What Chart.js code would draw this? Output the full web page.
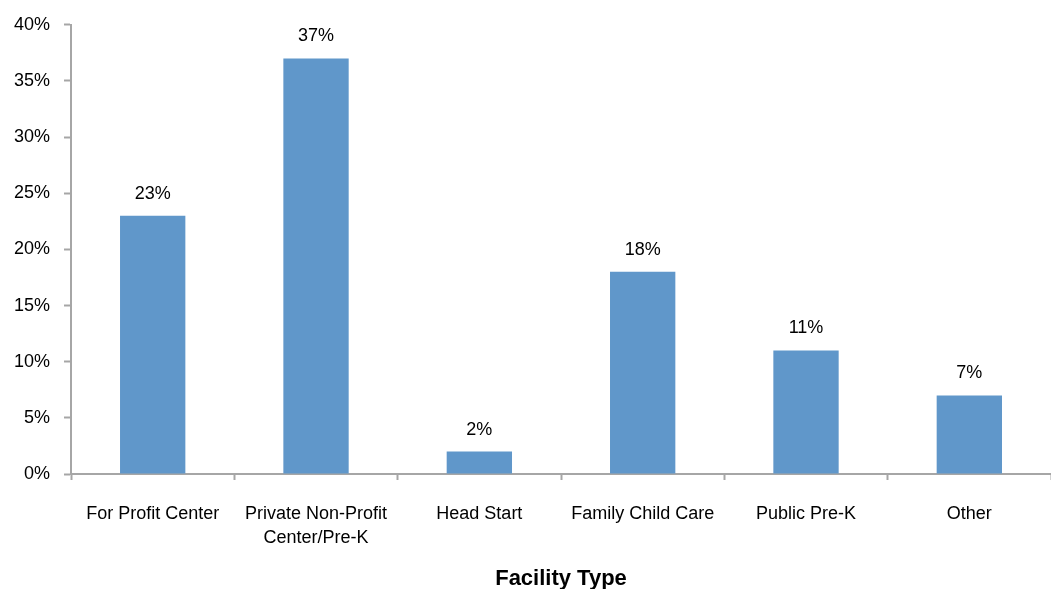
<!DOCTYPE html>
<html>
<head>
<meta charset="utf-8">
<script src="https://cdn.jsdelivr.net/npm/chart.js"></script>
<style>
  html, body { margin: 0; padding: 0; background: #fff; overflow: hidden; }
  #wrap { width: 1051px; height: 589px; position: relative; }
</style>
</head>
<body>
<div id="wrap"><canvas id="myChart"></canvas></div>
<script>
var categories = ["For Profit Center", ["Private Non-Profit", "Center/Pre-K"], "Head Start", "Family Child Care", "Public Pre-K", "Other"];
var shares = [23, 37, 2, 18, 11, 7];
var yTicks = [0, 5, 10, 15, 20, 25, 30, 35, 40];

var axisGray = "#a6a6a6";
var font = "'Liberation Sans', Arial, sans-serif";

// writes the value above each bar
var barLabels = {
  id: "barLabels",
  afterDatasetsDraw: function (chart) {
    var ctx = chart.ctx;
    var meta = chart.getDatasetMeta(0);
    ctx.save();
    ctx.fillStyle = "#000";
    ctx.font = "18px " + font;
    ctx.textAlign = "center";
    ctx.textBaseline = "bottom";
    meta.data.forEach(function (bar, i) {
      ctx.fillText(shares[i] + "%", bar.x, bar.y - 13);
    });
    ctx.restore();
  }
};

new Chart(document.getElementById("myChart"), {
  type: "bar",
  data: {
    labels: categories,
    datasets: [{
      data: shares,
      backgroundColor: "#6097ca",
      barPercentage: 0.4,
      categoryPercentage: 1.0
    }]
  },
  options: {
    responsive: true,
    maintainAspectRatio: false,
    animation: false,
    layout: { padding: { top: 1, right: 0, left: 0, bottom: 0 } },
    plugins: {
      legend: { display: false },
      tooltip: { enabled: false }
    },
    scales: {
      x: {
        grid: {
          offset: true,
          drawOnChartArea: false,
          drawTicks: true,
          tickLength: 6,
          tickColor: axisGray,
          tickWidth: 2
        },
        border: { color: axisGray, width: 2 },
        ticks: {
          color: "#000",
          font: { family: font, size: 18, lineHeight: 1.35 },
          padding: 22,
          maxRotation: 0,
          autoSkip: false
        },
        title: {
          display: true,
          text: "Facility Type",
          color: "#000",
          font: { family: "'Liberation Sans Narrow', 'Liberation Sans', Arial, sans-serif", size: 22, weight: "bold" },
          padding: { top: -7, bottom: -3 }
        }
      },
      y: {
        min: 0,
        max: 40,
        afterBuildTicks: function (axis) {
          axis.ticks = yTicks.map(function (v) { return { value: v }; });
        },
        grid: {
          drawOnChartArea: false,
          drawTicks: true,
          tickLength: 7,
          tickColor: axisGray,
          tickWidth: 2
        },
        border: { color: axisGray, width: 2 },
        ticks: {
          color: "#000",
          font: { family: font, size: 18 },
          padding: 14,
          callback: function (v) { return v + "%"; }
        }
      }
    }
  },
  plugins: [barLabels]
});
</script>
</body>
</html>
